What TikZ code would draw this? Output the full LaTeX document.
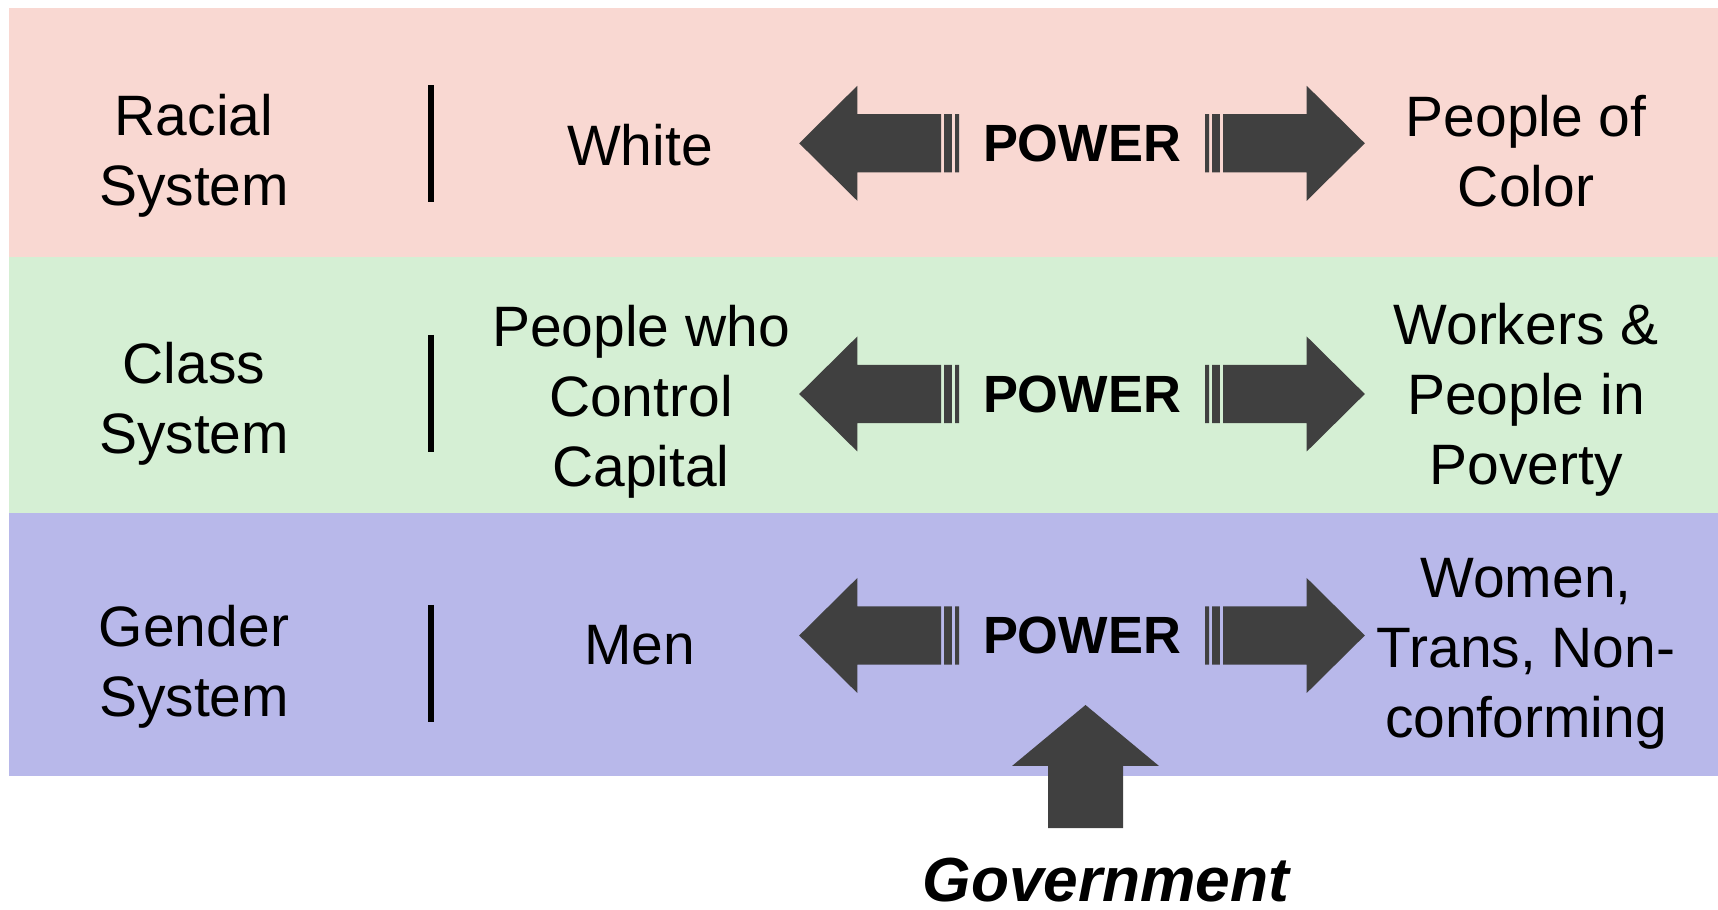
\documentclass[tikz,border=0pt]{standalone}
\usepackage{fontspec}
\setmainfont{Liberation Sans}
\definecolor{racepink}{RGB}{249,216,210}
\definecolor{classgreen}{RGB}{213,239,212}
\definecolor{genderblue}{RGB}{184,184,234}
\definecolor{arrowgray}{RGB}{64,64,64}

\begin{document}
\begin{tikzpicture}[
        x=0.01cm, y=-0.01cm,
        label/.style={anchor=north, inner sep=0pt, align=center, font=\fontsize{16.2}{19.9}\selectfont},
        power/.style={inner sep=0pt, font=\fontsize{14.9}{18}\selectfont\bfseries},
        separator/.style={line width=0.06cm},
        block/.style={fill=arrowgray}
      ]
        \useasboundingbox (0,0) rectangle (1718,910);

        % Bands
        \fill[racepink] (9,7.7) rectangle (1718,257.5);
        \fill[classgreen] (9,257.5) rectangle (1718,513);
        \fill[genderblue] (9,513) rectangle (1718,776);

        % Racial system
        \node[label] (sysrace) at (194,93.5) {Racial\\System};
        \node[label] (topwhite) at (640,124) {White};
        \node[label] (lowcolor) at (1526,95) {People of\\Color};
        \node[power] (power1) at (1082,143.3) {POWER};

        % Class system
        \node[label] (sysclass) at (194,341.7) {Class\\System};
        \node[label] (topcapital) at (641,305) {People who\\Control\\Capital};
        \node[label] (lowworkers) at (1526,303) {Workers \&\\People in\\Poverty};
        \node[power] (power2) at (1082,394) {POWER};

        % Gender system
        \node[label] (sysgender) at (194,605) {Gender\\System};
        \node[label] (topmen) at (639.5,624.5) {Men};
        \node[label] (lowwomen) at (1526,558) {Women,\\Trans, Non-\\conforming};
        \node[power] (power3) at (1082,635.5) {POWER};

        % Separators
        \draw[separator] (431,85.5) -- (431,201.6);
        \draw[separator] (431,335) -- (431,451.7);
        \draw[separator] (431,605) -- (431,721.7);

        % Striped arrows on both sides of POWER
        \foreach \row in {1,2,3} {
          \foreach \side in {1,-1} {
            \fill[block, shift={(power\row.center)}, xscale=\side]
              (141,-29.2) -- (224.7,-29.2) -- (224.7,-57.5) -- (282.8,0)
              -- (224.7,57.5) -- (224.7,29.2) -- (141,29.2) -- cycle
              (130.1,-29.2) rectangle (137.9,29.2)
              (123,-29.2) rectangle (127,29.2);
          }
        }

        % Government
        \node[power, anchor=base, font=\fontsize{17.7}{21}\selectfont\bfseries\itshape] (gov) at (1106,901.7) {Government};
        \fill[block] (1085.5,705) -- (1159,766) -- (1123,766) -- (1123,828)
          -- (1048,828) -- (1048,766) -- (1012,766) -- cycle;
      \end{tikzpicture}
\end{document}
